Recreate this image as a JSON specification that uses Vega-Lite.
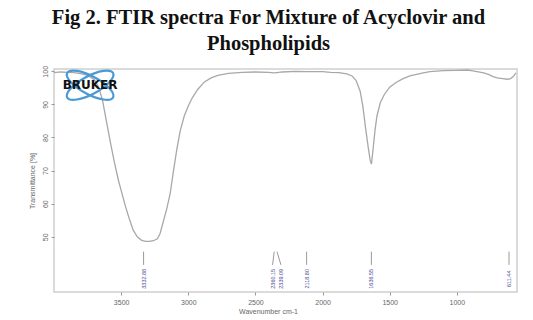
{
  "$schema": "https://vega.github.io/schema/vega-lite/v6.json",
  "width": 463,
  "height": 223,
  "autosize": "none",
  "padding": {"left": 54, "top": 69, "right": 16, "bottom": 28},
  "background": "white",
  "title": {
    "text": ["Fig 2. FTIR spectra For Mixture of Acyclovir and", "Phospholipids"],
    "font": "Liberation Serif",
    "fontSize": 20.5,
    "fontWeight": "bold",
    "color": "#111111",
    "lineHeight": 26,
    "anchor": "middle",
    "frame": "group",
    "dx": -17,
    "offset": 11
  },
  "config": {
    "view": {"stroke": "#cfcfcf", "strokeWidth": 1.5},
    "axis": {
      "grid": false,
      "domain": false,
      "tickColor": "#999999",
      "tickSize": 3,
      "labelColor": "#666666",
      "labelFont": "Liberation Sans",
      "labelFontSize": 7,
      "titleColor": "#666666",
      "titleFont": "Liberation Sans",
      "titleFontSize": 7,
      "titleFontWeight": "normal"
    }
  },
  "datasets": {
    "spectrum": [
      {"wn": 4000, "t": 99.6}, {"wn": 3950, "t": 99.8}, {"wn": 3900, "t": 99.7}, {"wn": 3850, "t": 99.6},
      {"wn": 3800, "t": 99.3}, {"wn": 3750, "t": 98.8}, {"wn": 3700, "t": 97.5}, {"wn": 3670, "t": 95.5},
      {"wn": 3640, "t": 91.5}, {"wn": 3610, "t": 85}, {"wn": 3580, "t": 78.5}, {"wn": 3550, "t": 72.5},
      {"wn": 3520, "t": 67}, {"wn": 3500, "t": 64}, {"wn": 3470, "t": 59.5}, {"wn": 3440, "t": 55.5},
      {"wn": 3410, "t": 52}, {"wn": 3380, "t": 50}, {"wn": 3350, "t": 49}, {"wn": 3320, "t": 48.6},
      {"wn": 3290, "t": 48.6}, {"wn": 3260, "t": 48.8}, {"wn": 3230, "t": 49.4}, {"wn": 3210, "t": 51},
      {"wn": 3190, "t": 54}, {"wn": 3160, "t": 58.5}, {"wn": 3135, "t": 63}, {"wn": 3110, "t": 70},
      {"wn": 3085, "t": 76.5}, {"wn": 3060, "t": 82}, {"wn": 3030, "t": 86.5}, {"wn": 3000, "t": 89.5},
      {"wn": 2970, "t": 92}, {"wn": 2930, "t": 94.5}, {"wn": 2880, "t": 96.8}, {"wn": 2830, "t": 98},
      {"wn": 2780, "t": 98.8}, {"wn": 2700, "t": 99.4}, {"wn": 2600, "t": 99.7}, {"wn": 2500, "t": 99.8},
      {"wn": 2400, "t": 99.7}, {"wn": 2360, "t": 99.5}, {"wn": 2340, "t": 99.6}, {"wn": 2300, "t": 99.8},
      {"wn": 2200, "t": 100}, {"wn": 2118, "t": 99.9}, {"wn": 2000, "t": 99.9}, {"wn": 1940, "t": 99.7},
      {"wn": 1880, "t": 99.6}, {"wn": 1820, "t": 99.2}, {"wn": 1780, "t": 98.6}, {"wn": 1750, "t": 97.2},
      {"wn": 1720, "t": 94}, {"wn": 1700, "t": 89.5}, {"wn": 1680, "t": 83}, {"wn": 1660, "t": 77},
      {"wn": 1645, "t": 73}, {"wn": 1636, "t": 72}, {"wn": 1625, "t": 76}, {"wn": 1610, "t": 82},
      {"wn": 1595, "t": 86.5}, {"wn": 1570, "t": 90.5}, {"wn": 1540, "t": 93}, {"wn": 1500, "t": 95.2},
      {"wn": 1450, "t": 96.7}, {"wn": 1400, "t": 97.8}, {"wn": 1350, "t": 98.6}, {"wn": 1300, "t": 99.1},
      {"wn": 1250, "t": 99.5}, {"wn": 1200, "t": 99.9}, {"wn": 1100, "t": 100.2}, {"wn": 1000, "t": 100.3},
      {"wn": 920, "t": 100.4}, {"wn": 880, "t": 100.1}, {"wn": 840, "t": 99.8}, {"wn": 800, "t": 99.5},
      {"wn": 760, "t": 99}, {"wn": 730, "t": 98.4}, {"wn": 700, "t": 98}, {"wn": 660, "t": 97.8},
      {"wn": 620, "t": 97.6}, {"wn": 600, "t": 97.8}, {"wn": 580, "t": 98.4}, {"wn": 560, "t": 99.5}
    ],
    "peaks": [
      {"wn": 3332.88, "lx": 3332.88, "label": "3332.88", "top": 45.5, "bottom": 41.5, "ty": 37.3},
      {"wn": 2360.15, "lx": 2372, "label": "2360.15", "top": 45.5, "bottom": 41.5, "ty": 37.3},
      {"wn": 2339.09, "lx": 2310, "label": "2339.09", "top": 45.5, "bottom": 41.5, "ty": 37.3},
      {"wn": 2118.80, "lx": 2118.80, "label": "2118.80", "top": 45.5, "bottom": 41.5, "ty": 37.3},
      {"wn": 1636.55, "lx": 1636.55, "label": "1636.55", "top": 45.5, "bottom": 41.5, "ty": 37.3},
      {"wn": 611.44, "lx": 611.44, "label": "611.44", "top": 45.5, "bottom": 41.5, "ty": 37.3}
    ],
    "logoRings": [
      {"wn": 3731, "t": 95.8, "ang": 28},
      {"wn": 3731, "t": 95.8, "ang": -28}
    ],
    "logoText": [
      {"wn": 3731, "t": 95.8, "name": "BRUKER"}
    ]
  },
  "layer": [
    {
      "data": {"name": "spectrum"},
      "mark": {"type": "line", "color": "#a8a8a8", "strokeWidth": 1.3, "clip": true},
      "encoding": {
        "x": {
          "field": "wn", "type": "quantitative",
          "scale": {"domain": [4000, 552], "nice": false, "zero": false},
          "axis": {"values": [3500, 3000, 2500, 2000, 1500, 1000], "format": "d", "title": "Wavenumber cm-1", "labelPadding": 3, "titleX": 214, "titlePadding": 2, "labelFlush": false}
        },
        "y": {
          "field": "t", "type": "quantitative",
          "scale": {"domain": [33.3, 100.7], "nice": false, "zero": false},
          "axis": {"values": [50, 60, 70, 80, 90, 100], "format": "d", "title": "Transmittance [%]", "labelAngle": -90, "labelPadding": 3, "titlePadding": 6}
        }
      }
    },
    {
      "data": {"name": "peaks"},
      "mark": {"type": "rule", "color": "#9a9a9a", "strokeWidth": 1},
      "encoding": {
        "x": {"field": "wn", "type": "quantitative"},
        "x2": {"field": "lx"},
        "y": {"field": "top", "type": "quantitative"},
        "y2": {"field": "bottom"}
      }
    },
    {
      "data": {"name": "peaks"},
      "mark": {"type": "text", "angle": 270, "fontSize": 5.5, "font": "Liberation Sans", "color": "#4b4b94", "align": "center", "baseline": "middle"},
      "encoding": {
        "x": {"field": "lx", "type": "quantitative"},
        "y": {"field": "ty", "type": "quantitative"},
        "text": {"field": "label"}
      }
    },
    {
      "data": {"name": "logoRings"},
      "mark": {"type": "point", "shape": "M -1 0 A 1 0.35 0 1 1 1 0 A 1 0.35 0 1 1 -1 0 Z", "filled": false, "size": 2700, "stroke": "#4a9ad6", "strokeWidth": 2.2, "opacity": 1},
      "encoding": {
        "x": {"field": "wn", "type": "quantitative"},
        "y": {"field": "t", "type": "quantitative"},
        "angle": {"field": "ang", "type": "quantitative", "scale": null}
      }
    },
    {
      "data": {"name": "logoText"},
      "mark": {"type": "text", "font": "DejaVu Sans", "fontWeight": "bold", "fontSize": 12, "color": "#111111", "align": "center", "baseline": "middle"},
      "encoding": {
        "x": {"field": "wn", "type": "quantitative"},
        "y": {"field": "t", "type": "quantitative"},
        "text": {"field": "name"}
      }
    }
  ]
}
